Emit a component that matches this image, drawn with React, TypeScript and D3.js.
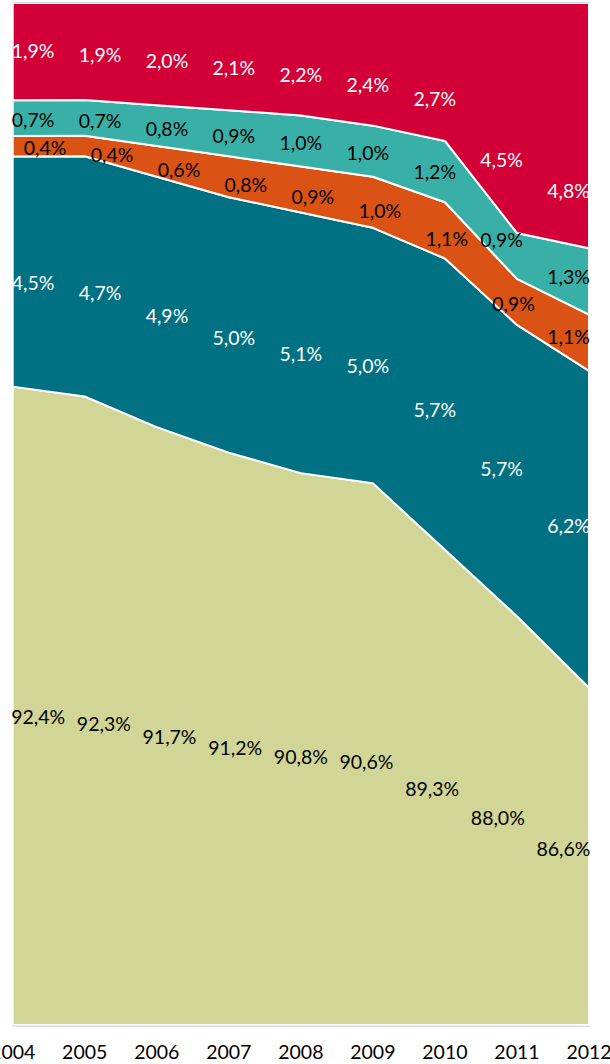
import React from 'react';
import * as d3 from 'd3';

const years = [2004, 2005, 2006, 2007, 2008, 2009, 2010, 2011, 2012];
const seriesKeys = ['khaki', 'darkTeal', 'orange', 'lightTeal', 'red'];
const khakiValues = [92.4, 92.3, 91.7, 91.2, 90.8, 90.6, 89.3, 88.0, 86.6];
const darkTealValues = [4.5, 4.7, 4.9, 5.0, 5.1, 5.0, 5.7, 5.7, 6.2];
const orangeValues = [0.4, 0.4, 0.6, 0.8, 0.9, 1.0, 1.1, 0.9, 1.1];
const lightTealValues = [0.7, 0.7, 0.8, 0.9, 1.0, 1.0, 1.2, 0.9, 1.3];
const redValues = [1.9, 1.9, 2.0, 2.1, 2.2, 2.4, 2.7, 4.5, 4.8];

const colors: Record<string, string> = {
  khaki: '#D1D596',
  darkTeal: '#007083',
  orange: '#DA5314',
  lightTeal: '#39B0A7',
  red: '#D20036',
};
const labelColors: Record<string, string> = {
  khaki: '#000',
  darkTeal: '#fff',
  orange: '#000',
  lightTeal: '#000',
  red: '#fff',
};
// label placement heuristics (fraction of the band height, growth per year, horizontal nudge)
const labelFrac: Record<string, number> = { khaki: 0.515, darkTeal: 0.545, orange: 0.62, lightTeal: 0.55, red: 0.5 };
const labelFracSlope: Record<string, number> = { khaki: 0, darkTeal: 0, orange: 0, lightTeal: 0, red: 0.035 };
const labelNudge: Record<string, number> = { khaki: 0, darkTeal: 0, orange: 12, lightTeal: 0, red: 0 };

const W = 610;
const H = 1064;
const left = 12.7;
const right = 589;
const top = 3;
const bottom = 1025;
const yMin = 0.8;

const locale = d3.formatLocale({ decimal: ',', thousands: '.', grouping: [3], currency: ['', '€'] });
const fmt = locale.format('.1f');

export default function App() {
  const valuesByKey: Record<string, number[]> = {
    khaki: khakiValues,
    darkTeal: darkTealValues,
    orange: orangeValues,
    lightTeal: lightTealValues,
    red: redValues,
  };
  const rows = years.map((year, i) => {
    const r: any = { year };
    seriesKeys.forEach((k) => (r[k] = valuesByKey[k][i]));
    return r;
  });
  const stack = d3.stack<any>().keys(seriesKeys).offset(d3.stackOffsetExpand);
  const layers = stack(rows);

  const x = d3.scalePoint<number>().domain(years).range([left, right]);
  const y = d3.scaleLinear().domain([yMin, 1]).range([bottom, top]);
  const yc = (v: number) => y(Math.max(v, yMin));

  const area = d3
    .area<any>()
    .x((d) => x(d.data.year)!)
    .y0((d) => yc(d[0]))
    .y1((d) => yc(d[1]));

  const xs = years.map((yr) => x(yr)!);
  const interp = (layer: any, px: number, which: 0 | 1) => {
    let j = 0;
    while (j < xs.length - 2 && px > xs[j + 1]) j++;
    const t = Math.max(0, Math.min(1, (px - xs[j]) / (xs[j + 1] - xs[j])));
    const a = yc(layer[j][which]);
    const b = yc(layer[j + 1][which]);
    return a + (b - a) * t;
  };

  const n = years.length;
  const labels: any[] = [];
  layers.forEach((layer: any) => {
    const key = layer.key;
    layer.forEach((d: any, i: number) => {
      const text = fmt(valuesByKey[key][i]) + '%';
      const hw = text.length * 5.1;
      let lx = x(years[i])! + hw * (1 - (2 * i) / (n - 1)) + labelNudge[key];
      lx = Math.max(left + hw, Math.min(right - hw, lx));
      const yTop = interp(layer, lx, 1);
      const yBot = interp(layer, lx, 0);
      const f = labelFrac[key] + labelFracSlope[key] * i;
      const ly = yTop + f * (yBot - yTop);
      labels.push({ key: key + i, text, x: lx, y: ly, color: labelColors[key] });
    });
  });

  return (
    <svg
      width={W}
      height={H}
      style={{ position: 'absolute', left: 0, top: 0, fontFamily: 'Lato, "Open Sans", sans-serif' }}
    >
      <rect width={W} height={H} fill="#fff" />
      {layers.map((layer: any) => (
        <path
          key={layer.key}
          d={area(layer) || ''}
          fill={colors[layer.key]}
          stroke="#fff"
          strokeWidth={2}
          strokeLinejoin="round"
        />
      ))}
      <line x1={left} x2={right + 1} y1={top - 0.5} y2={top - 0.5} stroke="#d9d9d9" strokeWidth={1} />
      <line x1={left - 1} x2={right + 1} y1={bottom + 1.2} y2={bottom + 1.2} stroke="#d9d9d9" strokeWidth={1.2} />
      {labels.map((l) => (
        <text key={l.key} x={l.x} y={l.y} dy="0.35em" textAnchor="middle" fontSize={19.5} fill={l.color}>
          {l.text}
        </text>
      ))}
      {years.map((yr) => (
        <text key={yr} x={x(yr)} y={1059} textAnchor="middle" fontSize={19.5} fill="#000">
          {yr}
        </text>
      ))}
    </svg>
  );
}
